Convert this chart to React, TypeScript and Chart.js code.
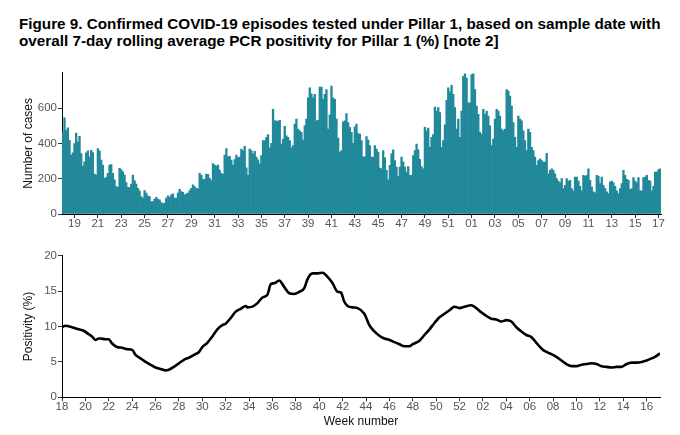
import { useEffect, useRef } from "react"
import { Chart, registerables } from "chart.js"

Chart.register(...registerables)

// daily confirmed episodes, Pillar 1, by sample date (first day = start of week 18)
const caseValues: number[] = [
  464, 544, 473, 488, 417, 333, 346,
  398, 458, 408, 440, 342, 271, 295,
  346, 357, 323, 361, 348, 226, 221,
  370, 357, 305, 277, 202, 208, 230,
  277, 280, 230, 193, 155, 151, 258,
  252, 239, 221, 178, 151, 150, 170,
  221, 189, 170, 146, 131, 99, 90,
  133, 118, 103, 99, 71, 71, 84,
  95, 84, 80, 65, 58, 62, 90,
  103, 95, 108, 114, 90, 90, 118,
  140, 127, 122, 108, 114, 118, 133,
  146, 165, 155, 146, 142, 230, 221,
  196, 196, 226, 224, 202, 189, 286,
  277, 271, 277, 249, 230, 224, 333,
  370, 323, 327, 305, 277, 308, 333,
  320, 322, 368, 359, 383, 262, 219,
  368, 359, 340, 355, 322, 307, 284,
  331, 415, 415, 434, 449, 374, 400,
  593, 527, 527, 524, 531, 396, 424,
  496, 443, 434, 415, 374, 387, 509,
  537, 481, 471, 462, 419, 499, 537,
  658, 714, 681, 658, 677, 527, 531,
  718, 718, 649, 677, 705, 481, 561,
  724, 658, 649, 537, 430, 350, 359,
  522, 527, 568, 518, 490, 462, 400,
  494, 509, 456, 453, 415, 322, 325,
  438, 419, 387, 322, 322, 387, 368,
  350, 260, 256, 359, 318, 247, 194,
  275, 340, 363, 303, 266, 213, 266,
  322, 294, 266, 238, 269, 219, 219,
  331, 359, 396, 363, 310, 269, 256,
  490, 471, 486, 378, 434, 449, 606,
  583, 602, 574, 378, 415, 505, 643,
  714, 692, 729, 677,
  602, 481, 537, 434, 583, 780, 793,
  770, 630, 630, 789, 793, 705, 611,
  565, 462, 453, 593, 565, 583, 555,
  499, 387, 424, 537, 593, 583, 555,
  481, 471, 481, 705, 696, 668, 611,
  518, 434, 378, 555, 537, 527, 471,
  415, 359, 481, 462, 378, 359, 322,
  275, 303, 312, 303, 294, 294, 344,
  228, 247, 256, 247, 228, 200, 187,
  176, 200, 144, 163, 200, 187, 191,
  144, 131, 209, 209, 187, 157, 131,
  219, 213, 219, 256, 191, 153, 125,
  120, 219, 213, 172, 209, 163, 144,
  125, 116, 181, 187, 176, 157, 131,
  116, 144, 172, 247, 219, 196, 191,
  138, 144, 206, 187, 176, 206, 131,
  131, 206, 209, 219, 191, 187, 131,
  157, 237, 237, 251, 256,
]

// 7-day rolling PCR positivity (%), sampled along the same day index
const positivityDays: number[] = [
  0, 2, 6, 10, 13, 16, 18, 20, 22, 23, 26, 28, 30, 33, 36, 39, 42, 44, 47, 50,
  53, 56, 59, 62, 64, 67, 70, 73, 76, 79, 82, 84, 87, 90, 93, 96, 98, 101, 104, 107,
  110, 111, 114, 117, 120, 123, 125, 127, 130, 133, 136, 139, 142, 145, 147, 150, 153, 156, 159, 162,
  165, 167, 169, 171, 174, 177, 181, 184, 187, 190, 193, 196, 199, 202, 205, 208, 210, 214, 217, 220,
  223, 226, 229, 232, 235, 238, 241, 245, 248, 251, 254, 257, 260, 263, 266, 269, 272, 275, 278, 281,
  284, 287, 290, 293, 296, 299, 302, 305, 308, 311, 314, 317, 320, 323, 326, 329, 332, 335, 338, 341,
  344, 347, 350, 353, 355, 358,
]
const positivityValues: number[] = [
  9.9, 10.1, 9.9, 9.6, 9.4, 8.9, 8.6, 8.1, 8.3, 8.3, 8.2, 8.2, 7.6, 7.1, 7.0, 6.8, 6.7, 6.0, 5.5, 5.0,
  4.6, 4.2, 4.0, 3.8, 3.9, 4.3, 4.8, 5.3, 5.6, 6.0, 6.4, 7.1, 7.7, 8.6, 9.6, 10.2, 10.4, 11.2, 12.1, 12.5,
  12.9, 12.7, 12.8, 13.3, 14.1, 14.5, 16.0, 16.1, 16.5, 15.6, 14.7, 14.6, 14.9, 15.4, 16.7, 17.5, 17.5, 17.6, 17.0, 16.1,
  14.9, 14.8, 13.5, 12.9, 12.7, 12.6, 11.8, 10.2, 9.3, 8.7, 8.3, 8.1, 7.8, 7.5, 7.2, 7.2, 7.5, 8.0, 8.8, 9.6,
  10.5, 11.3, 11.8, 12.3, 12.8, 12.6, 12.8, 13.0, 12.6, 12.0, 11.5, 11.1, 11.0, 10.7, 10.9, 10.7, 9.9, 9.3, 8.8, 8.5,
  7.7, 6.9, 6.4, 6.1, 5.7, 5.2, 4.7, 4.4, 4.4, 4.6, 4.7, 4.8, 4.7, 4.4, 4.3, 4.2, 4.3, 4.3, 4.7, 4.9,
  4.9, 5.0, 5.2, 5.5, 5.7, 6.2,
]

// week labels; top panel marks odd weeks (from day 7), bottom panel even weeks (from day 0)
const topWeekLabels = [
  "19", "21", "23", "25", "27", "29", "31", "33", "35", "37", "39", "41", "43",
  "45", "47", "49", "51", "01", "03", "05", "07", "09", "11", "13", "15", "17",
]
const bottomWeekLabels = [
  "18", "20", "22", "24", "26", "28", "30", "32", "34", "36", "38", "40", "42",
  "44", "46", "48", "50", "52", "02", "04", "06", "08", "10", "12", "14", "16",
]
const caseTicks = [0, 200, 400, 600]
const positivityTicks = [0, 5, 10, 15, 20]

const FONT = "'Liberation Sans', Arial, sans-serif"
const TEAL = "#21899a"
const LABEL_GREY = "#555555"
const TICK_GREY = "#333333"

const tickFont = { family: FONT, size: 11.5, lineHeight: 1 }
const titleFont = { family: FONT, size: 12, lineHeight: 1.2 }

function CasesChart() {
  const chartRef = useRef<HTMLCanvasElement>(null)
  const chartInstance = useRef<Chart | null>(null)

  useEffect(() => {
    if (!chartRef.current) return
    if (chartInstance.current) chartInstance.current.destroy()
    const ctx = chartRef.current.getContext("2d")
    if (!ctx) return

    chartInstance.current = new Chart(ctx, {
      type: "bar",
      data: {
        labels: caseValues.map((_, i) => String(i)),
        datasets: [
          {
            data: caseValues,
            backgroundColor: TEAL,
            borderWidth: 0,
            barPercentage: 1,
            categoryPercentage: 1,
          },
        ],
      },
      options: {
        animation: false,
        responsive: true,
        maintainAspectRatio: false,
        layout: { padding: { top: 12.7, right: 19, bottom: 0, left: 0 } },
        plugins: { legend: { display: false }, tooltip: { enabled: false } },
        scales: {
          x: {
            type: "category",
            offset: true,
            grid: { display: true, drawOnChartArea: false, offset: false, tickLength: 4, color: TICK_GREY },
            border: { display: true, color: "#000000", width: 1 },
            ticks: {
              autoSkip: false,
              maxRotation: 0,
              padding: 0,
              color: LABEL_GREY,
              font: tickFont,
              callback: (_value, index) => topWeekLabels[index],
            },
            afterBuildTicks: (scale) => {
              scale.ticks = topWeekLabels.map((_, i) => ({ value: 7 + 14 * i }))
            },
            afterFit: (scale) => {
              scale.height = 21
            },
          },
          y: {
            min: 0,
            max: 800,
            grid: { display: true, drawOnChartArea: false, tickLength: 4, color: TICK_GREY },
            border: { display: true, color: "#000000", width: 1 },
            ticks: { padding: 1, color: LABEL_GREY, font: tickFont },
            afterBuildTicks: (scale) => {
              scale.ticks = caseTicks.map((v) => ({ value: v }))
            },
            afterFit: (scale) => {
              scale.width = 62
            },
            title: {
              display: true,
              text: "Number of cases",
              color: "#111111",
              font: titleFont,
              padding: { top: 21, bottom: 0 },
            },
          },
        },
      },
    })

    return () => {
      if (chartInstance.current) {
        chartInstance.current.destroy()
        chartInstance.current = null
      }
    }
  }, [])

  return <canvas ref={chartRef} />
}

function PositivityChart() {
  const chartRef = useRef<HTMLCanvasElement>(null)
  const chartInstance = useRef<Chart | null>(null)

  useEffect(() => {
    if (!chartRef.current) return
    if (chartInstance.current) chartInstance.current.destroy()
    const ctx = chartRef.current.getContext("2d")
    if (!ctx) return

    chartInstance.current = new Chart(ctx, {
      type: "line",
      data: {
        datasets: [
          {
            data: positivityDays.map((d, i) => ({ x: d, y: positivityValues[i] })),
            borderColor: "#000000",
            borderWidth: 2.6,
            pointRadius: 0,
            cubicInterpolationMode: "monotone",
            fill: false,
          },
        ],
      },
      options: {
        animation: false,
        responsive: true,
        maintainAspectRatio: false,
        layout: { padding: { top: 15.7, right: 20, bottom: 0, left: 0 } },
        plugins: { legend: { display: false }, tooltip: { enabled: false } },
        scales: {
          x: {
            type: "linear",
            min: 0,
            max: caseValues.length - 1,
            grid: { display: true, drawOnChartArea: false, tickLength: 4, color: TICK_GREY },
            border: { display: true, color: "#000000", width: 1 },
            ticks: {
              autoSkip: false,
              maxRotation: 0,
              padding: 0,
              color: LABEL_GREY,
              font: tickFont,
              callback: (_value, index) => bottomWeekLabels[index],
            },
            afterBuildTicks: (scale) => {
              scale.ticks = bottomWeekLabels.map((_, i) => ({ value: 14 * i }))
            },
            afterFit: (scale) => {
              scale.height = 37.7
            },
            title: {
              display: true,
              text: "Week number",
              color: "#111111",
              font: titleFont,
              padding: { top: 0, bottom: 6 },
            },
          },
          y: {
            min: 0,
            max: 20,
            grid: { display: true, drawOnChartArea: false, tickLength: 4, color: TICK_GREY },
            border: { display: true, color: "#000000", width: 1 },
            ticks: { padding: 1, color: LABEL_GREY, font: tickFont },
            afterBuildTicks: (scale) => {
              scale.ticks = positivityTicks.map((v) => ({ value: v }))
            },
            afterFit: (scale) => {
              scale.width = 62
            },
            title: {
              display: true,
              text: "Positivity (%)",
              color: "#111111",
              font: titleFont,
              padding: { top: 21, bottom: 0 },
            },
          },
        },
      },
    })

    return () => {
      if (chartInstance.current) {
        chartInstance.current.destroy()
        chartInstance.current = null
      }
    }
  }, [])

  return <canvas ref={chartRef} />
}

export default function App() {
  return (
    <div
      style={{
        position: "absolute",
        left: 0,
        top: 0,
        width: 680,
        height: 435,
        background: "#ffffff",
        overflow: "hidden",
      }}
    >
      <div
        style={{
          position: "absolute",
          left: 19,
          top: 14.5,
          fontFamily: FONT,
          fontWeight: "bold",
          fontSize: 15.25,
          lineHeight: "17.7px",
          color: "#000000",
          whiteSpace: "nowrap",
        }}
      >
        Figure 9. Confirmed COVID-19 episodes tested under Pillar 1, based on sample date with
        <br />
        overall 7-day rolling average PCR positivity for Pillar 1 (%) [note 2]
      </div>
      <div style={{ position: "absolute", left: 0, top: 60, width: 680, height: 175 }}>
        <CasesChart />
      </div>
      <div style={{ position: "absolute", left: 0, top: 240, width: 680, height: 195 }}>
        <PositivityChart />
      </div>
    </div>
  )
}
